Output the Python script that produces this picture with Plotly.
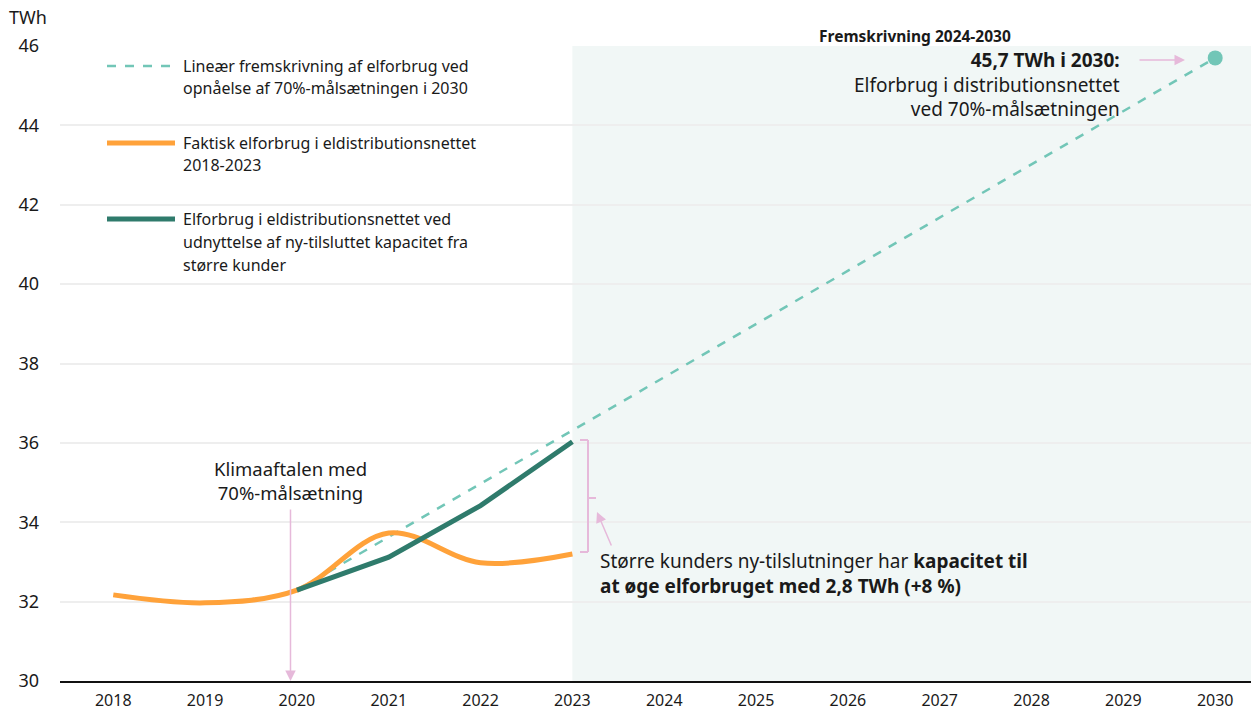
import plotly.graph_objects as go

# ---- data ----
years_actual = [2018, 2019, 2020, 2021, 2022, 2023]
actual_twh = [32.17, 31.97, 32.29, 33.73, 32.98, 33.2]

years_capacity = [2020, 2021, 2022, 2023]
capacity_twh = [32.29, 33.12, 34.42, 36.03]

years_linear = [2020, 2030]
linear_twh = [32.29, 45.7]

x_ticks = list(range(2018, 2031))
y_ticks = [30, 32, 34, 36, 38, 40, 42, 44, 46]

# ---- styling ----
FONT = "Noto Sans"
ORANGE = "#ffa23a"
GREEN = "#2f7b6c"
TEAL = "#72c6b7"
PINK = "#e6b9da"
SHADE = "#f1f7f6"
TXT = "#1a1a1a"

W, H = 1251, 713
L, R, T, B = 60, 0, 46, 32
PW, PH = W - L - R, H - T - B


def px(x):
    return (x - L) / PW


def py(y):
    return (H - B - y) / PH


fig = go.Figure()

fig.add_trace(go.Scatter(x=years_linear, y=linear_twh, mode="lines",
                         line=dict(color=TEAL, width=2.5, dash="dash"),
                         hoverinfo="skip", showlegend=False))
fig.add_trace(go.Scatter(x=years_linear[-1:], y=linear_twh[-1:], mode="markers",
                         marker=dict(color=TEAL, size=15),
                         hoverinfo="skip", showlegend=False, cliponaxis=False))
fig.add_trace(go.Scatter(x=years_actual, y=actual_twh, mode="lines",
                         line=dict(color=ORANGE, width=5, shape="spline", smoothing=1.0),
                         hoverinfo="skip", showlegend=False))
fig.add_trace(go.Scatter(x=years_capacity, y=capacity_twh, mode="lines",
                         line=dict(color=GREEN, width=5),
                         hoverinfo="skip", showlegend=False))

shapes = []
# projection shading
shapes.append(dict(type="rect", xref="x", yref="y", x0=2023, x1=2030.39, y0=30, y1=46,
                   fillcolor=SHADE, line_width=0, layer="below"))

# legend symbols
shapes.append(dict(type="line", xref="paper", yref="paper", x0=px(107), x1=px(175), y0=py(66), y1=py(66),
                   line=dict(color=TEAL, width=2.5, dash="dash")))
shapes.append(dict(type="line", xref="paper", yref="paper", x0=px(107), x1=px(175), y0=py(143), y1=py(143),
                   line=dict(color=ORANGE, width=5)))
shapes.append(dict(type="line", xref="paper", yref="paper", x0=px(107), x1=px(175), y0=py(219), y1=py(219),
                   line=dict(color=GREEN, width=5)))

# bracket
bx = px(588)
shapes.append(dict(type="line", xref="paper", yref="paper", x0=bx, x1=bx, y0=py(440), y1=py(552),
                   line=dict(color=PINK, width=2)))
shapes.append(dict(type="line", xref="paper", yref="paper", x0=px(580), x1=bx, y0=py(440), y1=py(440),
                   line=dict(color=PINK, width=2)))
shapes.append(dict(type="line", xref="paper", yref="paper", x0=px(580), x1=bx, y0=py(552), y1=py(552),
                   line=dict(color=PINK, width=2)))
shapes.append(dict(type="line", xref="paper", yref="paper", x0=bx, x1=px(596), y0=py(498), y1=py(498),
                   line=dict(color=PINK, width=2)))

annotations = []


def lines(x, ys, texts, size=16, xanchor="left"):
    for y, s in zip(ys, texts):
        annotations.append(dict(xref="paper", yref="paper", x=px(x), y=py(y), text=s, showarrow=False,
                                xanchor=xanchor, yanchor="middle", borderpad=0,
                                font=dict(family=FONT, size=size, color=TXT)))


def block(x, yc, text, size, xanchor="left", align="left"):
    annotations.append(dict(xref="paper", yref="paper", x=px(x), y=py(yc), text=text, showarrow=False,
                            xanchor=xanchor, yanchor="middle", align=align, borderpad=0,
                            font=dict(family=FONT, size=size, color=TXT)))


# legend texts
lines(182, [66, 88], ["Lineær fremskrivning af elforbrug ved", "opnåelse af 70%-målsætningen i 2030"])
lines(182, [143, 165], ["Faktisk elforbrug i eldistributionsnettet", "2018-2023"])
lines(182, [219, 242, 265], ["Elforbrug i eldistributionsnettet ved",
                             "udnyttelse af ny-tilsluttet kapacitet fra", "større kunder"])

lines(8, [17], ["TWh"], size=18)
lines(915, [36], ["<b>Fremskrivning 2024-2030</b>"], size=15.5, xanchor="center")
block(1121, 84, "<b>45,7 TWh i 2030:</b><br>Elforbrug i distributionsnettet<br>ved 70%-målsætningen",
      19, xanchor="right", align="right")
block(290, 480, "Klimaaftalen med<br>70%-målsætning", 18.5, xanchor="center", align="center")
block(599, 573, "Større kunders ny-tilslutninger har <b>kapacitet til</b><br>"
                "<b>at øge elforbruget med 2,8 TWh (+8 %)</b>", 19)

# arrows (tail offsets in pixels)
annotations.append(dict(xref="paper", yref="paper", axref="pixel", ayref="pixel",
                        x=px(1185), y=py(60), ax=-47, ay=0, text="", showarrow=True,
                        arrowhead=2, arrowsize=1.4, arrowwidth=1.5, arrowcolor=PINK))
annotations.append(dict(xref="x", yref="paper", axref="pixel", ayref="pixel",
                        x=2020 - 0.07, y=0.0, ax=0, ay=-173, text="", showarrow=True,
                        arrowhead=2, arrowsize=1.4, arrowwidth=1.5, arrowcolor=PINK))
annotations.append(dict(xref="paper", yref="paper", axref="pixel", ayref="pixel",
                        x=px(597), y=py(512), ax=15, ay=35, text="", showarrow=True,
                        arrowhead=2, arrowsize=1.4, arrowwidth=1.5, arrowcolor=PINK))

fig.update_layout(
    width=W, height=H,
    margin=dict(l=L, r=R, t=T, b=B, autoexpand=False),
    paper_bgcolor="white", plot_bgcolor="white",
    showlegend=False,
    font=dict(family=FONT, size=18, color=TXT),
    shapes=shapes, annotations=annotations,
    xaxis=dict(range=[2017.42, 2030.39], tickvals=x_ticks, ticktext=[str(v) for v in x_ticks],
               showgrid=False, zeroline=False, showline=True, linecolor="#111", linewidth=2,
               automargin=False,
               ticks="", ticklabelstandoff=4, tickfont=dict(size=16, color=TXT), fixedrange=True),
    yaxis=dict(range=[30, 46], tickvals=y_ticks, ticktext=[str(v) for v in y_ticks],
               showgrid=True, gridcolor="#eeeeee", gridwidth=2, zeroline=False, showline=False,
               automargin=False,
               ticks="", ticklabelstandoff=20, tickfont=dict(size=18, color=TXT), fixedrange=True),
)

fig.write_html("out.html", config={"displayModeBar": False},
               post_script="document.body.style.margin='0';document.body.style.overflow='hidden';")
